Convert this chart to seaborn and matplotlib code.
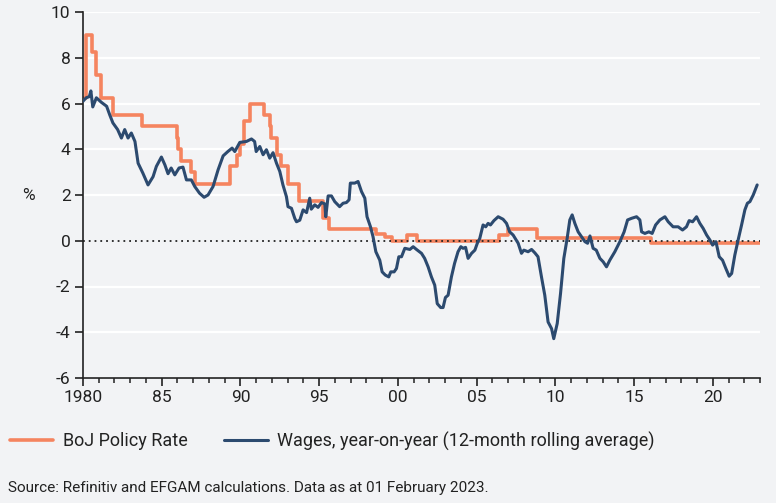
import matplotlib
matplotlib.use("Agg")
import matplotlib.pyplot as plt
import seaborn as sns
import pandas as pd
from matplotlib.ticker import MultipleLocator

# ---------------- data ----------------
boj_dates = [1980.0, 1980.17, 1980.55, 1980.85, 1981.17, 1981.93, 1983.75, 1985.95,
             1986.05, 1986.2, 1986.85, 1987.1, 1989.35, 1989.78, 1989.95, 1990.2,
             1990.6, 1991.5, 1991.85, 1991.95, 1992.3, 1992.55, 1993.05, 1993.7,
             1995.25, 1995.65, 1998.6, 1999.2, 1999.6, 2000.55, 2001.2, 2006.4,
             2007.0, 2008.82, 2016.05, 2023.0]
boj_rate = [6.25, 9.0, 8.25, 7.25, 6.25, 5.5, 5.0, 4.5,
            4.0, 3.5, 3.0, 2.5, 3.25, 3.75, 4.25, 5.25,
            6.0, 5.5, 5.0, 4.5, 3.75, 3.25, 2.5, 1.75,
            1.0, 0.5, 0.28, 0.15, 0.0, 0.25, 0.0, 0.25,
            0.5, 0.1, -0.1, -0.1]

wage_dates = [1980.0, 1980.2, 1980.4, 1980.5, 1980.62, 1980.85, 1981.17, 1981.5, 1981.7, 1981.9,
              1982.2, 1982.44, 1982.65, 1982.86, 1983.07, 1983.3, 1983.5, 1983.8, 1984.13, 1984.45,
              1984.66, 1984.98, 1985.2, 1985.4, 1985.6, 1985.83, 1986.1, 1986.35, 1986.57, 1986.88,
              1987.1, 1987.4, 1987.69, 1987.94, 1988.26, 1988.58, 1988.9, 1989.2, 1989.47, 1989.64,
              1989.96, 1990.38, 1990.7, 1990.9, 1991.0, 1991.23, 1991.44, 1991.65, 1991.86, 1992.07,
              1992.29, 1992.5, 1992.7, 1992.92, 1993.02, 1993.24, 1993.45, 1993.56, 1993.77, 1993.98,
              1994.2, 1994.4, 1994.5, 1994.72, 1994.93, 1995.15, 1995.36, 1995.42, 1995.57, 1995.78,
              1995.99, 1996.3, 1996.52, 1996.73, 1996.9, 1996.98, 1997.26, 1997.47, 1997.69, 1997.9,
              1998.04, 1998.26, 1998.42, 1998.6, 1998.85, 1999.0, 1999.2, 1999.42, 1999.55, 1999.76,
              1999.91, 2000.06, 2000.23, 2000.44, 2000.76, 2000.97, 2001.18, 2001.5, 2001.7, 2001.92,
              2002.13, 2002.34, 2002.5, 2002.72, 2002.87, 2003.02, 2003.19, 2003.4, 2003.6, 2003.82,
              2004.0, 2004.14, 2004.3, 2004.46, 2004.68, 2004.89, 2005.05, 2005.2, 2005.41, 2005.58,
              2005.73, 2005.88, 2006.1, 2006.37, 2006.68, 2006.9, 2007.1, 2007.32, 2007.64, 2007.85,
              2008.0, 2008.27, 2008.49, 2008.7, 2008.9, 2009.12, 2009.33, 2009.54, 2009.76, 2009.9,
              2010.12, 2010.33, 2010.54, 2010.75, 2010.92, 2011.07, 2011.24, 2011.45, 2011.66, 2011.88,
              2012.05, 2012.2, 2012.4, 2012.6, 2012.83, 2013.04, 2013.25, 2013.46, 2013.78, 2014.1,
              2014.37, 2014.59, 2014.84, 2015.16, 2015.37, 2015.48, 2015.69, 2015.94, 2016.15, 2016.37,
              2016.64, 2016.96, 2017.17, 2017.48, 2017.8, 2018.08, 2018.33, 2018.5, 2018.72, 2018.97,
              2019.18, 2019.39, 2019.61, 2019.82, 2019.99, 2020.2, 2020.41, 2020.62, 2020.83, 2021.04,
              2021.2, 2021.4, 2021.61, 2021.83, 2022.04, 2022.2, 2022.36, 2022.57, 2022.82]
wage_yoy = [6.1, 6.25, 6.3, 6.55, 5.85, 6.25, 6.05, 5.88, 5.5, 5.15,
            4.86, 4.49, 4.86, 4.49, 4.71, 4.34, 3.39, 2.96, 2.44, 2.8,
            3.25, 3.66, 3.32, 2.93, 3.18, 2.88, 3.18, 3.22, 2.66, 2.66,
            2.37, 2.08, 1.9, 2.0, 2.37, 3.1, 3.71, 3.9, 4.05, 3.9,
            4.3, 4.34, 4.45, 4.34, 3.9, 4.12, 3.76, 3.98, 3.61, 3.85,
            3.39, 3.03, 2.44, 1.93, 1.49, 1.42, 0.98, 0.83, 0.9, 1.35,
            1.23, 1.86, 1.38, 1.57, 1.46, 1.67, 1.61, 1.05, 1.96, 1.96,
            1.71, 1.49, 1.64, 1.67, 1.79, 2.52, 2.52, 2.59, 2.15, 1.86,
            1.05, 0.61, 0.18, -0.48, -0.85, -1.36, -1.5, -1.58, -1.36, -1.36,
            -1.21, -0.7, -0.7, -0.33, -0.38, -0.26, -0.38, -0.55, -0.77, -1.14,
            -1.58, -1.94, -2.75, -2.92, -2.92, -2.48, -2.38, -1.58, -0.99, -0.48,
            -0.26, -0.33, -0.29, -0.77, -0.55, -0.41, -0.1, 0.1, 0.69, 0.61,
            0.76, 0.69, 0.88, 1.05, 0.94, 0.76, 0.39, 0.25, -0.11, -0.55,
            -0.41, -0.48, -0.38, -0.53, -0.7, -1.58, -2.38, -3.55, -3.84, -4.28,
            -3.62, -2.31, -0.77, 0.1, 0.91, 1.13, 0.76, 0.39, 0.18, -0.04,
            -0.11, 0.21, -0.33, -0.41, -0.77, -0.92, -1.14, -0.85, -0.48, -0.04,
            0.39, 0.91, 0.98, 1.05, 0.91, 0.39, 0.32, 0.39, 0.32, 0.69,
            0.91, 1.05, 0.83, 0.61, 0.61, 0.47, 0.61, 0.88, 0.83, 1.05,
            0.76, 0.54, 0.25, 0.03, -0.19, -0.04, -0.7, -0.85, -1.21, -1.55,
            -1.43, -0.63, 0.03, 0.69, 1.35, 1.64, 1.71, 2.0, 2.44]

x_ticks = [1980, 1985, 1990, 1995, 2000, 2005, 2010, 2015, 2020]
x_labels = ["1980", "85", "90", "95", "00", "05", "10", "15", "20"]
y_ticks = [-6, -4, -2, 0, 2, 4, 6, 8, 10]

label_boj = "BoJ Policy Rate"
label_wage = "Wages, year-on-year (12-month rolling average)"
source = "Source: Refinitiv and EFGAM calculations. Data as at 01 February 2023."

# ---------------- style ----------------
BG = "#f2f3f5"
ORANGE = "#f5845f"
NAVY = "#2c4a6f"
TXT = "#222222"

sns.set_theme(style="white")
plt.rcParams["font.family"] = ["Roboto", "DejaVu Sans"]

fig = plt.figure(figsize=(7.76, 5.03), dpi=100, facecolor=BG)
ax = fig.add_axes([83 / 776, 1 - 378 / 503, (760 - 83) / 776, (378 - 12) / 503])
ax.set_facecolor(BG)

df_boj = pd.DataFrame({"date": boj_dates, "value": boj_rate})
df_wage = pd.DataFrame({"date": wage_dates, "value": wage_yoy})

# grid lines (white) and dotted zero line
for yv in y_ticks:
    if yv == 0:
        ax.axhline(0, color="#222222", lw=1.3, ls=(0, (1, 2.2)), zorder=3)
    else:
        ax.axhline(yv, color="white", lw=1.6, zorder=0)

sns.lineplot(data=df_boj, x="date", y="value", ax=ax, color=ORANGE, lw=2.6,
             drawstyle="steps-post", estimator=None, sort=False, zorder=2, label=label_boj)
sns.lineplot(data=df_wage, x="date", y="value", ax=ax, color=NAVY, lw=2.2,
             estimator=None, sort=False, zorder=4, label=label_wage)

ax.set_xlim(1980, 2023)
ax.set_ylim(-6, 10)
ax.set_xticks(x_ticks)
ax.set_xticklabels(x_labels)
ax.xaxis.set_minor_locator(MultipleLocator(1))
ax.set_yticks(y_ticks)
ax.set_yticklabels([str(v) for v in y_ticks])

for s in ["top", "right"]:
    ax.spines[s].set_visible(False)
for s in ["left", "bottom"]:
    ax.spines[s].set_color(TXT)
    ax.spines[s].set_linewidth(1.2)

ax.tick_params(axis="both", which="major", direction="out", length=6, width=1.2,
               color=TXT, labelcolor=TXT, labelsize=12.5, pad=3,
               bottom=True, left=True)
ax.tick_params(axis="x", which="minor", direction="out", length=3.5, width=1.1,
               color=TXT, bottom=True)
ax.tick_params(axis="x", which="major", pad=3)
ax.set_xlabel("")
ax.set_ylabel("%", rotation=0, fontsize=12.5, color=TXT, va="center", ha="center")
ax.yaxis.set_label_coords((28 - 83) / 677, 0.5)

ax.legend(loc="center left", bbox_to_anchor=(-0.008, 1 - 441 / 503),
          bbox_transform=fig.transFigure, ncol=2, frameon=False, fontsize=13,
          handlelength=2.4, handletextpad=0.55, columnspacing=2.0, labelcolor=TXT)

fig.text(8 / 776, 1 - 488 / 503, source, fontsize=11, color=TXT, va="center", ha="left")

fig.savefig("out.png", dpi=100, facecolor=BG)
